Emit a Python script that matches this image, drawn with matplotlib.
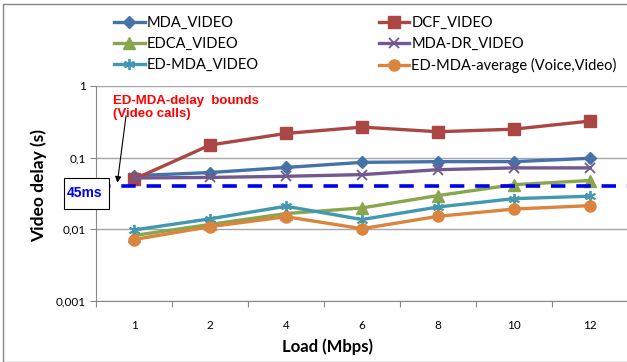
import matplotlib
matplotlib.use('Agg')
import matplotlib.pyplot as plt
import matplotlib.patches as patches
from matplotlib.ticker import FixedLocator, NullLocator

loads = ['1', '2', '4', '6', '8', '10', '12']

mda_video = [0.056, 0.062, 0.073, 0.086, 0.088, 0.088, 0.098]
dcf_video = [0.050, 0.150, 0.218, 0.267, 0.230, 0.250, 0.324]
edca_video = [0.0082, 0.0117, 0.0166, 0.0199, 0.0296, 0.042, 0.048]
mda_dr_video = [0.052, 0.053, 0.055, 0.058, 0.068, 0.072, 0.072]
ed_mda_video = [0.0098, 0.014, 0.021, 0.0137, 0.0205, 0.0268, 0.029]
ed_mda_avg = [0.0072, 0.0109, 0.015, 0.0102, 0.0152, 0.0192, 0.0214]

bound = 0.04

plt.rcParams['font.family'] = ['Lato', 'DejaVu Sans']

fig = plt.figure(figsize=(6.27, 3.62), dpi=100)
ax = fig.add_axes([96 / 627, 1 - 301 / 362, 532 / 627, 215 / 362])

x = list(range(len(loads)))
lw = 2.4

l_mda, = ax.plot(x, mda_video, color='#4572A7', lw=lw, marker='D', ms=6.5, zorder=5)
l_dcf, = ax.plot(x, dcf_video, color='#AA4643', lw=lw, marker='s', ms=8, zorder=5)
l_edca, = ax.plot(x, edca_video, color='#89A54E', lw=lw, marker='^', ms=8, zorder=5)
l_dr, = ax.plot(x, mda_dr_video, color='#71588F', lw=lw, marker='x', ms=7, mew=1.3, zorder=5)
l_ed, = ax.plot(x, ed_mda_video, color='#4198AF', lw=lw, marker=(6, 2, 0), ms=8, mew=1.3, zorder=5)
l_avg, = ax.plot(x, ed_mda_avg, color='#DB843D', lw=lw, marker='o', ms=8, zorder=5)

ax.axhline(bound, color='#0000EE', lw=2.6, ls=(0, (4, 3)), zorder=6, clip_on=False)

ax.set_yscale('log')
ax.set_ylim(0.001, 1)
ax.set_xlim(-0.5, len(loads) - 0.5)
ax.yaxis.set_major_locator(FixedLocator([0.001, 0.01, 0.1, 1]))
ax.yaxis.set_minor_locator(NullLocator())
ax.set_yticklabels(['0,001', '0,01', '0,1', '1'])
ax.xaxis.set_major_locator(FixedLocator([i + 0.5 for i in range(-1, len(loads))]))
ax.xaxis.set_minor_locator(FixedLocator(x))
ax.set_xticklabels([''] * (len(loads) + 1))
ax.set_xticklabels(loads, minor=True)
ax.tick_params(axis='x', which='major', length=4, color='#888888', direction='out')
ax.tick_params(axis='x', which='minor', length=0, pad=14, labelsize=8.5)
ax.tick_params(axis='y', length=4, color='#888888', labelsize=8.5)
ax.grid(axis='y', which='major', color='#A6A6A6', lw=1.0)
for s in ['top', 'right']:
    ax.spines[s].set_visible(False)
for s in ['left', 'bottom']:
    ax.spines[s].set_color('#888888')
ax.set_axisbelow(True)

ax.set_xlabel('Load (Mbps)', fontsize=12, fontweight='bold')
ax.xaxis.set_label_coords((328 - 96) / 532, -(338 - 301) / 215)
ax.set_ylabel('Video delay (s)', fontsize=12.5, fontweight='bold')
ax.yaxis.set_label_coords(-(96 - 47) / 532, (301 - 185) / 215)

# annotation for the delay bound
ax.text(-0.28, 0.76, 'ED-MDA-delay  bounds\n(Video calls)', color='#FF0000',
        fontsize=9.5, fontweight='bold', family='Liberation Sans', va='top', ha='left',
        linespacing=1.2)
ax.annotate('', xy=(-0.224, bound * 1.02), xytext=(-0.1, 0.42),
            arrowprops=dict(arrowstyle='-|>', color='black', lw=0.8, mutation_scale=9))

box = patches.Rectangle((64 / 627, 1 - 209 / 362), 45 / 627, 31 / 362, transform=fig.transFigure,
                        facecolor='white', edgecolor='black', lw=0.8, zorder=10)
fig.patches.append(box)
fig.text(85 / 627, 1 - 193 / 362, '45ms', color='#0000EE', fontsize=10, fontweight='bold',
         family='Liberation Sans', ha='center', va='center', zorder=11)

handles = [l_mda, l_edca, l_ed, l_dcf, l_dr, l_avg]
labels = ['MDA_VIDEO', 'EDCA_VIDEO', 'ED-MDA_VIDEO', 'DCF_VIDEO', 'MDA-DR_VIDEO',
          'ED-MDA-average (Voice,Video)']
fig.legend(handles, labels, ncol=2, loc='upper left', bbox_to_anchor=(114 / 627, 1 - 16 / 362),
           frameon=False, fontsize=10.5, handlelength=2.1, handletextpad=0.15,
           columnspacing=8.2, labelspacing=0.48, borderpad=0, borderaxespad=0)

frame = patches.Rectangle((3 / 627, 0), 1.2, 1 - 4 / 362, transform=fig.transFigure,
                          facecolor='none', edgecolor='#888888', lw=1.0)
fig.patches.append(frame)

fig.savefig('out.png', dpi=100)
